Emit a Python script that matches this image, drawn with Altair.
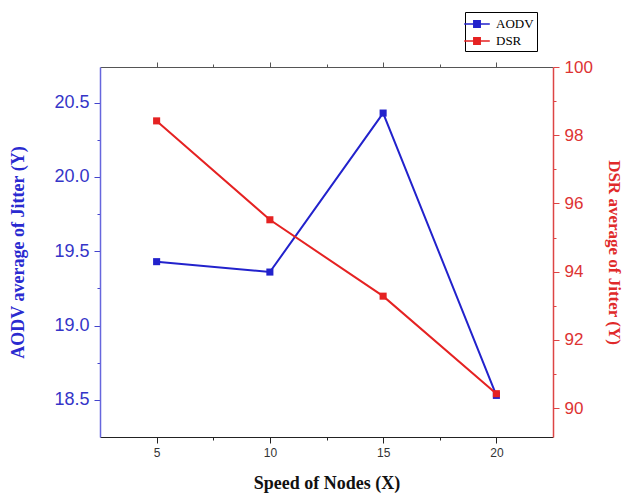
import altair as alt
import pandas as pd

speed = [5, 10, 15, 20]
aodv = [19.43, 19.36, 20.43, 18.53]
dsr = [98.42, 95.52, 93.28, 90.42]

x_ticks = [5, 7.5, 10, 12.5, 15, 17.5, 20]
left_ticks = [18.5, 18.75, 19.0, 19.25, 19.5, 19.75, 20.0, 20.25, 20.5]
right_ticks = [90, 91, 92, 93, 94, 95, 96, 97, 98, 99, 100]

BLUE = "#2222cc"
RED = "#e52222"

df_a = pd.DataFrame({"speed": speed, "value": aodv, "series": ["AODV"] * 4})
df_d = pd.DataFrame({"speed": speed, "value": dsr, "series": ["DSR"] * 4})

color = alt.Color(
    "series:N",
    scale=alt.Scale(domain=["AODV", "DSR"], range=[BLUE, RED]),
    legend=alt.Legend(
        title=None, orient="none", legendX=365, legendY=-55,
        symbolType="M-1.6,0L1.6,0M-0.4,-0.4L0.4,-0.4L0.4,0.4L-0.4,0.4Z",
        symbolSize=256, symbolStrokeWidth=1.5,
        labelFont="Liberation Serif", labelFontSize=13, labelColor="black",
        strokeColor="black", fillColor="white", padding=3, rowPadding=1,
        labelOffset=10, offset=0,
    ),
)

xsc = alt.Scale(domain=[2.5, 22.5], nice=False)
mark_pt = alt.OverlayMarkDef(shape="square", size=50, filled=True, opacity=1)

x_bottom = alt.X(
    "speed:Q", scale=xsc,
    axis=alt.Axis(
        orient="bottom", values=x_ticks, title="Speed of Nodes (X)",
        labelExpr="datum.value % 5 === 0 ? datum.label : ''",
        tickSize={"condition": {"test": "datum.value % 5 === 0", "value": 6}, "value": 3},
        grid=False, domainColor="#222222", tickColor="#222222",
        labelFont="Liberation Sans", labelFontSize=12, labelColor="#333333",
        labelPadding=4, titleFont="Liberation Serif", titleFontSize=18,
        titleFontWeight="bold", titleColor="#111111", titlePadding=16,
    ),
)
x_top = alt.X(
    "speed:Q", scale=xsc,
    axis=alt.Axis(
        orient="top", values=x_ticks, labels=False, title=None,
        tickSize={"condition": {"test": "datum.value % 5 === 0", "value": 5}, "value": 3},
        grid=False, domainColor="#555555", tickColor="#555555",
    ),
)

left = alt.Chart(df_a).mark_line(color=BLUE, strokeWidth=2, point=mark_pt).encode(
    x=x_bottom,
    y=alt.Y(
        "value:Q",
        scale=alt.Scale(domain=[18.25, 20.74], nice=False, zero=False),
        axis=alt.Axis(
            orient="left", values=left_ticks, title="AODV average of Jitter (Y)",
            format=".1f",
            labelExpr="abs(datum.value*2 - round(datum.value*2)) < 0.01 ? datum.label : ''",
            tickSize={"condition": {"test": "abs(datum.value*2 - round(datum.value*2)) < 0.01", "value": 6}, "value": 3},
            grid=False, domainColor="#6666dd", tickColor="#4444cc", domainWidth=1.5,
            labelFont="Liberation Sans", labelFontSize=18, labelColor="#3535c8",
            labelPadding=5, titleFont="Liberation Serif", titleFontSize=18,
            titleFontWeight="bold", titleColor="#2a2ad0", titlePadding=26,
        ),
    ),
    color=color,
)

right = alt.Chart(df_d).mark_line(color=RED, strokeWidth=2, point=mark_pt).encode(
    x=x_top,
    y=alt.Y(
        "value:Q",
        scale=alt.Scale(domain=[89.15, 100], nice=False, zero=False),
        axis=alt.Axis(
            orient="right", values=right_ticks, title="DSR average of Jitter (Y)",
            labelExpr="datum.value % 2 === 0 ? datum.label : ''",
            tickSize={"condition": {"test": "datum.value % 2 === 0", "value": 6}, "value": 3},
            grid=False, domainColor="#dd4444", tickColor="#dd4444", domainWidth=1.5,
            labelFont="Liberation Sans", labelFontSize=17, labelColor="#dd3333",
            labelPadding=5, titleFont="Liberation Serif", titleFontSize=17,
            titleFontWeight="bold", titleColor="#e02a2a", titlePadding=12,
            titleAngle=90,
        ),
    ),
    color=color,
)

chart = (
    alt.layer(left, right)
    .resolve_scale(y="independent")
    .resolve_axis(x="independent")
    .properties(
        width=453, height=370,
        padding={"left": 92, "top": 59, "right": 74, "bottom": 56},
        autosize=alt.AutoSizeParams(type="none"),
        background="white",
    )
    .configure_view(stroke=None)
)

chart.save("out.html", embed_options={"renderer": "svg", "actions": False})
